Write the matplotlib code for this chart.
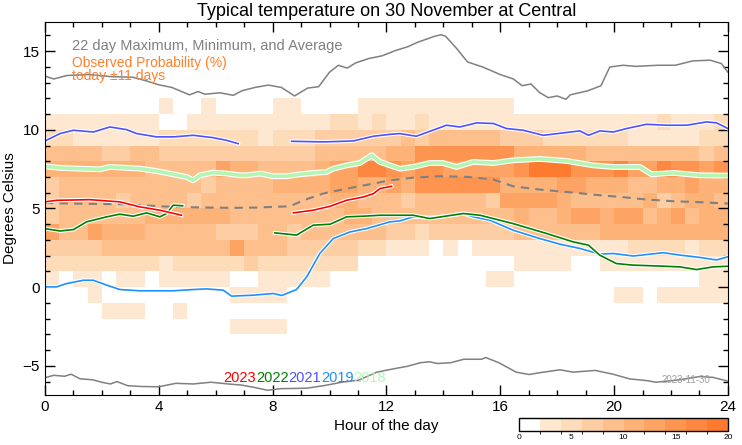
import numpy as np
import matplotlib
matplotlib.use("Agg")
import matplotlib.pyplot as plt
from matplotlib.colors import ListedColormap, BoundaryNorm
import matplotlib.patheffects as pe

plt.rcParams['font.family'] = ['Liberation Sans', 'DejaVu Sans']

# observed probability levels, one digit per half hour (0..9 -> 0-2%, 2-4%, ... 18-20%)
# rows are temperature bins from 11..12 C down to -3..-2 C
prob_rows = [
    "00000000 1 00 1 0000 11 0000 11111111111 000000000000000",
    "11111111 00 1111111111 22 1 2 11 2 1111111111111111 2 111 2",
    "22 111111 22 22222 1 222 33333 3 4 3 44444 333 222222 11111 22",
    "4444 33 44 33333333333 44444 55 7777777 5 5555 44444444 3 4",
    "5555555 44444 6 55 4444 5 66 88 7 6 77 66666 7 999 777 8 66 8 77 6 7",
    "3 4444444444 3 4444 5555 66 55 6 5 777777 5 555 66 555 44 55 6 55",
    "3 4444 3 4444 3 44444 4444 55 44 4 3 44444 3 6666 5 44444 5 3 4 55 4",
    "3 444444 555555 44 444444 55 4 444444444 5 44 5 66 5 66 4 5 6 4 55",
    "6 44 6 555 44444 333 44 3 444444 33 2 333333 444444 555555555",
    "3333 444444444 6 444 33333 22 111 0 1 0 11111111111 2222 1 22",
    "22222222 1 22222 3 2222222 00000000000 1111 00 111111111",
    "1 0 11 0 11 0 11111 00 11111 00000000000 11 0000000000000 11",
    "000 1 000000000 1111 00000000000000000000000 11 0 11111",
    "0000 111 00 1 00000000000000000000000000000000000000",
    "0000000000000 1111 0000000000000000000000000000000",
]
temp_top = 11
half_hours = np.arange(0, 24.5, 0.5)

# 22 day max / min / average
max_h = [0, 0.31, 0.77, 1.54, 2.31, 3.08, 3.54, 4.0, 4.46, 5.08, 5.38, 5.62, 6.15, 6.62, 6.92,
         7.38, 7.85, 8.31, 8.77, 9.23, 9.62, 10.0, 10.31, 10.62, 10.92, 11.38, 11.85, 12.31,
         12.77, 13.08, 13.69, 13.92, 14.08, 14.46, 14.85, 15.38, 16.0, 16.46, 16.77, 17.08,
         17.38, 17.69, 18.0, 18.31, 18.46, 19.08, 19.54, 19.85, 20.31, 20.77, 21.54, 22.15,
         22.77, 23.38, 23.77, 24.0]
max_t = [13.41, 13.23, 13.45, 13.51, 13.38, 13.34, 13.12, 12.86, 12.69, 12.22, 12.43, 12.26,
         12.35, 12.19, 12.48, 12.69, 12.84, 12.69, 12.15, 12.65, 12.74, 13.66, 14.10, 13.92,
         14.25, 14.53, 14.70, 15.03, 15.29, 15.55, 15.94, 16.04, 15.94, 15.18, 14.31, 13.99,
         13.51, 13.23, 12.80, 12.91, 12.37, 12.04, 12.15, 11.94, 12.22, 12.48, 12.80, 13.99,
         14.10, 14.03, 14.10, 14.10, 14.38, 14.42, 14.21, 13.66]
min_h = [0, 0.31, 0.69, 0.92, 1.23, 1.69, 1.99, 2.30, 2.53, 2.91, 3.37, 3.99, 4.6, 5.21, 5.83,
         6.44, 6.90, 7.36, 7.82, 8.28, 9.2, 9.82, 10.43, 11.04, 11.66, 12.27, 12.73, 13.19,
         13.5, 13.8, 14.26, 14.72, 15.34, 15.49, 15.95, 16.56, 17.02, 17.33, 18.1, 18.56,
         19.33, 19.94, 20.55, 21.17, 21.47, 22.24, 23.0, 23.47, 24.0]
min_t = [-5.75, -5.6, -5.66, -5.53, -5.82, -5.89, -6.04, -6.15, -6.0, -6.26, -6.31, -6.33,
         -6.11, -6.15, -6.04, -6.15, -6.22, -6.37, -6.55, -6.45, -6.42, -6.25, -6.04, -5.9,
         -5.4, -5.18, -5.03, -4.8, -4.74, -4.85, -4.8, -4.58, -4.58, -4.47, -4.8, -5.4, -5.55,
         -5.45, -5.25, -5.4, -5.29, -5.52, -5.83, -5.94, -6.04, -5.9, -5.68, -5.73, -5.97]
avg_h = [0, 1.0, 2.75, 4.51, 5.68, 6.62, 7.44, 8.61, 9.08, 9.78, 10.6, 11.54, 12.12, 12.94,
         13.88, 14.82, 15.76, 16.45, 17.39, 18.33, 19.27, 20.2, 21.14, 22.08, 23.01, 24.0]
avg_t = [5.35, 5.31, 5.27, 5.1, 5.06, 5.04, 5.06, 5.14, 5.52, 5.95, 6.26, 6.58, 6.79, 6.96,
         7.05, 7.01, 6.84, 6.41, 6.2, 6.05, 5.88, 5.74, 5.57, 5.46, 5.4, 5.31]

# individual years
y2023 = [([0, 0.41, 1.58, 2.63, 3.34, 4.04, 4.8],
          [5.42, 5.52, 5.56, 5.42, 5.1, 4.89, 4.57]),
         ([8.73, 9.43, 10.02, 10.6, 11.19, 11.54, 11.77, 12.18],
          [4.72, 4.89, 5.14, 5.52, 5.73, 5.94, 6.26, 6.41])]
y2022 = [([0, 0.53, 1.0, 1.46, 2.17, 2.63, 3.1, 3.57, 4.04, 4.27, 4.51, 4.84],
          [3.72, 3.57, 3.66, 4.15, 4.47, 4.64, 4.51, 4.72, 4.47, 4.68, 5.21, 5.17]),
         ([8.08, 8.84, 9.43, 10.02, 10.6, 11.19, 11.77, 12.94, 13.52, 14.7, 15.29, 16.45,
           17.63, 18.56, 19.1, 19.5, 20.08, 20.67, 21.49, 22.31, 22.9, 23.48, 24.0],
          [3.45, 3.31, 3.94, 4.0, 4.47, 4.51, 4.57, 4.57, 4.36, 4.68, 4.57, 4.04,
           3.41, 2.88, 2.67, 2.03, 1.5, 1.4, 1.35, 1.29, 1.12, 1.29, 1.33])]
y2021 = [([0, 0.53, 1.0, 1.7, 2.28, 2.87, 3.22, 3.92, 4.51, 5.21, 5.91, 6.38, 6.79],
          [9.29, 9.76, 9.97, 9.86, 10.18, 10.01, 9.76, 9.55, 9.55, 9.65, 9.5, 9.33, 9.12]),
         ([8.67, 9.78, 10.83, 11.54, 12.12, 12.47, 13.05, 14.11, 14.58, 15.17, 15.76, 16.22,
           16.81, 17.51, 18.8, 19.1, 19.5, 19.97, 20.44, 21.14, 21.84, 22.55, 23.25, 23.6, 24.0],
          [9.27, 9.23, 9.29, 9.59, 9.71, 9.76, 9.59, 10.29, 10.18, 10.44, 10.4, 10.08,
           9.97, 9.65, 9.93, 9.65, 9.93, 9.86, 10.08, 10.35, 10.29, 10.29, 10.5, 10.44, 10.08])]
y2019 = [([0, 0.41, 0.76, 1.35, 1.7, 2.17, 2.63, 3.34, 4.51, 5.21, 5.68, 6.26, 6.56, 7.32,
           8.02, 8.32, 8.84, 9.2, 9.66, 10.13, 10.72, 11.3, 12.12, 12.47, 12.94, 13.52,
           14.11, 14.7, 15.05, 15.64, 16.45, 17.39, 18.1, 18.8, 19.5, 19.97, 20.67, 21.73,
           22.31, 23.01, 23.6, 24.0],
          [0.02, 0.02, 0.23, 0.44, 0.44, 0.13, -0.15, -0.23, -0.23, -0.15, -0.11, -0.19,
           -0.57, -0.51, -0.4, -0.53, -0.15, 0.66, 2.14, 3.09, 3.51, 3.72, 4.15, 4.21, 4.47,
           4.42, 4.51, 4.68, 4.47, 4.25, 3.62, 3.09, 2.73, 2.46, 2.1, 2.14, 1.98, 2.19, 2.04,
           1.89, 1.73, 1.93])]
y2018 = [([0, 0.53, 1.23, 1.93, 2.28, 2.87, 3.34, 3.92, 4.51, 4.98, 5.21, 5.45, 5.91, 6.38,
           6.85, 7.09, 7.55, 8.02, 8.49, 8.96, 9.43, 9.9, 10.13, 10.6, 11.07, 11.48, 11.77,
           12.47, 12.94, 13.52, 13.99, 14.46, 15.05, 15.76, 16.45, 17.39, 18.33, 19.27,
           19.97, 20.91, 21.32, 22.08, 23.01, 24.0],
          [7.68, 7.58, 7.53, 7.49, 7.64, 7.58, 7.53, 7.38, 7.17, 7.0, 6.79, 7.11, 7.28, 7.22,
           7.11, 7.11, 7.22, 7.05, 7.05, 7.17, 7.26, 7.32, 7.53, 7.74, 7.89, 8.38, 7.96,
           7.53, 7.64, 7.89, 7.89, 7.64, 7.96, 7.89, 8.06, 8.15, 8.02, 7.74, 7.64, 7.64,
           7.17, 7.26, 7.11, 7.09])]

years = ["2023", "2022", "2021", "2019", "2018"]
year_data = [y2023, y2022, y2021, y2019, y2018]
year_colors = ["#ff0000", "#008000", "#5050ff", "#1e90ff", "#b4f5b4"]
year_widths = [1.2, 1.2, 1.2, 1.2, 2.6]

level_colors = ["#ffffff", "#fee8d1", "#fddcba", "#fdcea3", "#fdc08c",
                "#fdb277", "#fda363", "#fd9550", "#fd8740", "#fd7a2f"]

fig = plt.figure(figsize=(7.42, 4.45), dpi=100)
ax = fig.add_axes([0.0606, 0.1124, 0.9204, 0.8382])

grid = np.array([[int(c) for c in r.replace(" ", "")] for r in prob_rows])
assert grid.shape == (15, 48), grid.shape
grid = grid[::-1] * 2 + 1.0
grid = np.ma.masked_where(grid < 2, grid)
temp_edges = np.arange(temp_top - len(prob_rows) + 1, temp_top + 2)
cmap = ListedColormap(level_colors)
norm = BoundaryNorm(np.arange(0, 22, 2), cmap.N)
mesh = ax.pcolormesh(half_hours, temp_edges, grid, cmap=cmap, norm=norm)

ax.plot(max_h, max_t, color="#808080", lw=1.1)
ax.plot(min_h, min_t, color="#808080", lw=1.1)
ax.plot(avg_h, avg_t, color="#808080", lw=1.5, dashes=(4, 3))

for segs, col, lw in zip(year_data[::-1], year_colors[::-1], year_widths[::-1]):
    for hx, ty in segs:
        ax.plot(hx, ty, color=col, lw=lw,
                path_effects=[pe.Stroke(linewidth=lw + 1.6, foreground="white"), pe.Normal()])

ax.set_xlim(0, 24)
ax.set_ylim(-6.85, 16.85)
ax.set_xticks(np.arange(0, 25, 4))
ax.set_xticks(np.arange(0, 25, 1), minor=True)
ax.set_yticks([-5, 0, 5, 10, 15])
ax.set_yticks(np.arange(-6, 17, 1), minor=True)
ax.tick_params(which="both", direction="in", top=True, right=True, labelsize=11)
ax.tick_params(which="major", length=7, width=1)
ax.tick_params(which="minor", length=3.5, width=1)
ax.set_xlabel("Hour of the day", fontsize=11, labelpad=4)
ax.set_ylabel("Degrees Celsius", fontsize=11, labelpad=4)
ax.set_title("Typical temperature on 30 November at Central", fontsize=13, pad=4)

ax.text(0.04, 0.935, "22 day Maximum, Minimum, and Average", transform=ax.transAxes,
        color="#808080", fontsize=10.5, va="center")
ax.text(0.04, 0.889, "Observed Probability (%)", transform=ax.transAxes,
        color="#ff7f2a", fontsize=10, va="center")
ax.text(0.04, 0.855, "today \u00b111 days", transform=ax.transAxes,
        color="#ff7f2a", fontsize=10, va="center")

xpos = 0.261
for name, col in zip(years, year_colors):
    t = ax.text(xpos, 0.045, name, transform=ax.transAxes, color=col, fontsize=10.5,
                va="center")
    fig.canvas.draw()
    bb = t.get_window_extent().transformed(ax.transAxes.inverted())
    xpos = bb.x1

ax.text(0.974, 0.04, "2023-11-30", transform=ax.transAxes, color="#a0a0a0",
        fontsize=7, ha="right", va="center")

cax = fig.add_axes([0.6995, 0.0315, 0.2817, 0.0292])
cb = fig.colorbar(mesh, cax=cax, orientation="horizontal", ticks=[0, 5, 10, 15, 20])
cb.outline.set_linewidth(1)
cax.tick_params(length=0, labelsize=6, pad=2)

fig.savefig("out.png", dpi=100)
